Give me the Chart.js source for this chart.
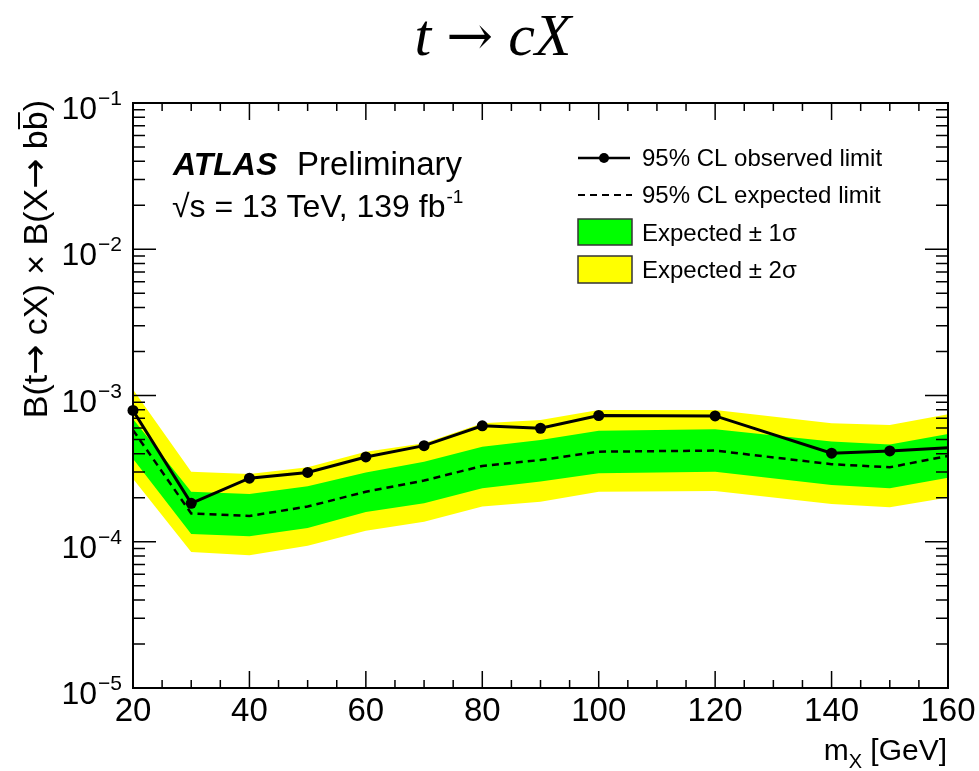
<!DOCTYPE html>
<html>
<head>
<meta charset="utf-8">
<script src="https://cdn.jsdelivr.net/npm/chart.js@4.4.1/dist/chart.umd.min.js"></script>
<style>
  html, body { margin: 0; padding: 0; background: #fff; }
  #wrap { width: 979px; height: 771px; }
</style>
</head>
<body>
<div id="wrap"><canvas id="limitChart" width="979" height="771"></canvas></div>
<script>
// masses and limits
const massPoints = [20, 30, 40, 50, 60, 70, 80, 90, 100, 120, 140, 150, 160];
const observed = [7.9e-4, 1.83e-4, 2.72e-4, 2.98e-4, 3.8e-4, 4.54e-4, 6.2e-4, 5.97e-4, 7.3e-4, 7.25e-4, 4.03e-4, 4.18e-4, 4.4e-4];
const expected = [5.8e-4, 1.56e-4, 1.5e-4, 1.74e-4, 2.2e-4, 2.62e-4, 3.3e-4, 3.62e-4, 4.13e-4, 4.2e-4, 3.39e-4, 3.23e-4, 3.86e-4];
const band1Up = [6.9e-4, 2.2e-4, 2.12e-4, 2.4e-4, 2.97e-4, 3.53e-4, 4.47e-4, 4.97e-4, 5.74e-4, 5.87e-4, 4.84e-4, 4.63e-4, 5.46e-4];
const band1Down = [3.7e-4, 1.13e-4, 1.09e-4, 1.24e-4, 1.6e-4, 1.83e-4, 2.32e-4, 2.58e-4, 2.94e-4, 3.01e-4, 2.44e-4, 2.32e-4, 2.74e-4];
const band2Up = [1.1e-3, 3.01e-4, 2.9e-4, 3.23e-4, 4.13e-4, 4.71e-4, 6.46e-4, 6.8e-4, 7.96e-4, 7.96e-4, 6.45e-4, 6.28e-4, 7.43e-4];
const band2Down = [2.7e-4, 8.5e-5, 8.1e-5, 9.4e-5, 1.19e-4, 1.37e-4, 1.74e-4, 1.88e-4, 2.2e-4, 2.22e-4, 1.81e-4, 1.72e-4, 2.01e-4];

// axis setup
const xMin = 20, xMax = 160, xMajorStep = 20, xMinorStep = 5;
const yExps = [-5, -4, -3, -2, -1];

const sans = '"Liberation Sans", Arial, sans-serif';
const serif = '"Liberation Serif", "Times New Roman", serif';
const arrowSans = '"DejaVu Sans", sans-serif';
const arrowSerif = '"DejaVu Serif", serif';

function toPoints(vals) {
    return massPoints.map((m, i) => ({ x: m, y: vals[i] }));
}

// draws a run of [font, text] pieces starting at x, returns end x
function drawRun(ctx, parts, x, y) {
    for (const p of parts) {
        ctx.font = p[0];
        ctx.fillText(p[1], x, y);
        x += ctx.measureText(p[1]).width;
    }
    return x;
}

function runWidth(ctx, parts) {
    let w = 0;
    for (const p of parts) { ctx.font = p[0]; w += ctx.measureText(p[1]).width; }
    return w;
}

// frame, inner ticks, labels, legend (ROOT look)
const atlasDecor = {
    id: 'atlasDecor',
    afterDraw(chart) {
        const ctx = chart.ctx;
        const area = chart.chartArea;
        const xs = chart.scales.x;
        const ys = chart.scales.y;
        ctx.save();

        // ticks
        ctx.strokeStyle = '#000';
        ctx.lineWidth = 1.5;
        ctx.beginPath();
        for (let v = xMin; v <= xMax; v += xMinorStep) {
            const px = xs.getPixelForValue(v);
            const len = v % xMajorStep === 0 ? 17 : 8;
            ctx.moveTo(px, area.bottom); ctx.lineTo(px, area.bottom - len);
            ctx.moveTo(px, area.top); ctx.lineTo(px, area.top + len);
        }
        for (const e of yExps) {
            for (let k = 1; k < 10; k++) {
                if (e === yExps[yExps.length - 1] && k > 1) break;
                const py = ys.getPixelForValue(k * Math.pow(10, e));
                const len = k === 1 ? 23 : 12;
                ctx.moveTo(area.left, py); ctx.lineTo(area.left + len, py);
                ctx.moveTo(area.right, py); ctx.lineTo(area.right - len, py);
            }
        }
        ctx.stroke();

        // frame
        ctx.lineWidth = 2;
        ctx.strokeRect(area.left, area.top, area.right - area.left, area.bottom - area.top);

        ctx.fillStyle = '#000';
        ctx.textBaseline = 'alphabetic';

        // y tick labels 10^n
        for (const e of yExps) {
            const py = ys.getPixelForValue(Math.pow(10, e));
            ctx.font = '32px ' + sans;
            ctx.textAlign = 'right';
            ctx.fillText('10', 97, py + 16);
            ctx.font = '21px ' + sans;
            ctx.textAlign = 'left';
            ctx.fillText('\u2212' + Math.abs(e), 98, py + 2);
        }

        // x axis title
        ctx.textAlign = 'left';
        ctx.font = '30px ' + sans;
        const wm = ctx.measureText('m').width;
        const wg = ctx.measureText(' [GeV]').width;
        ctx.font = '20px ' + sans;
        const wx = ctx.measureText('X').width;
        let tx = 947 - (wm + wx + wg);
        ctx.font = '30px ' + sans;
        ctx.fillText('m', tx, 760);
        ctx.font = '20px ' + sans;
        ctx.fillText('X', tx + wm, 768);
        ctx.font = '30px ' + sans;
        ctx.fillText(' [GeV]', tx + wm + wx, 760);

        // y axis title
        ctx.save();
        ctx.translate(47, 100);
        ctx.rotate(-Math.PI / 2);
        ctx.textAlign = 'left';
        const fy = '34px ' + sans;
        const ay = '36px ' + arrowSans;
        const yParts = [
            [fy, 'B(t'], [ay, '\u2192'], [fy, ' cX) \u00d7 B(X'],
            [ay, '\u2192'], [fy, ' bb)']
        ];
        const yw = runWidth(ctx, yParts);
        drawRun(ctx, yParts, -yw, 0);
        ctx.font = fy;
        const wp = ctx.measureText(')').width;
        const wb = ctx.measureText('b').width;
        ctx.lineWidth = 2;
        ctx.beginPath();
        ctx.moveTo(-wp - wb + 1, -28);
        ctx.lineTo(-wp - 1, -28);
        ctx.stroke();
        ctx.restore();

        // ATLAS label
        ctx.textAlign = 'left';
        ctx.font = 'italic bold 32px ' + sans;
        ctx.fillText('ATLAS', 173, 175);
        ctx.font = '33px ' + sans;
        ctx.fillText('Preliminary', 297, 175);
        ctx.font = '32px ' + sans;
        const line2 = '\u221As = 13 TeV, 139 fb';
        ctx.fillText(line2, 172, 217);
        const w2 = ctx.measureText(line2).width;
        ctx.font = '19px ' + sans;
        ctx.fillText('-1', 172 + w2 + 1, 203);

        // legend
        ctx.font = '24px ' + sans;
        ctx.lineWidth = 2.5;
        ctx.beginPath();
        ctx.moveTo(578, 158); ctx.lineTo(630, 158);
        ctx.stroke();
        ctx.beginPath();
        ctx.arc(604, 158, 5, 0, Math.PI * 2);
        ctx.fill();
        ctx.fillText('95% CL observed limit', 642, 166);

        ctx.setLineDash([7, 5]);
        ctx.lineWidth = 2;
        ctx.beginPath();
        ctx.moveTo(578, 195); ctx.lineTo(632, 195);
        ctx.stroke();
        ctx.setLineDash([]);
        ctx.fillText('95% CL expected limit', 642, 203);

        ctx.lineWidth = 1.5;
        ctx.fillStyle = '#00ff00';
        ctx.fillRect(578, 219, 54, 26);
        ctx.strokeStyle = '#333';
        ctx.strokeRect(578, 219, 54, 26);
        ctx.fillStyle = '#ffff00';
        ctx.fillRect(578, 256, 54, 27);
        ctx.strokeRect(578, 256, 54, 27);
        ctx.fillStyle = '#000';
        ctx.fillText('Expected \u00b1 1\u03c3', 642, 241);
        ctx.fillText('Expected \u00b1 2\u03c3', 642, 278);

        // title  t -> cX
        const parts = [
            ['italic 60px ' + serif, 't '],
            ['56px ' + arrowSerif, '\u2192'],
            ['italic 60px ' + serif, ' cX']
        ];
        const total = runWidth(ctx, parts);
        drawRun(ctx, parts, 493 - total / 2, 55);

        ctx.restore();
    }
};

new Chart(document.getElementById('limitChart'), {
    type: 'line',
    data: {
        datasets: [
            {
                label: '95% CL observed limit',
                data: toPoints(observed),
                borderColor: '#000',
                borderWidth: 3,
                pointRadius: observed.map((v, i) => i === observed.length - 1 ? 0 : 5.5),
                pointBackgroundColor: '#000',
                pointBorderWidth: 0,
                fill: false,
                clip: false,
                order: 0
            },
            {
                label: '95% CL expected limit',
                data: toPoints(expected),
                borderColor: '#000',
                borderWidth: 2.5,
                borderDash: [7, 5],
                pointRadius: 0,
                fill: false,
                order: 1
            },
            {
                label: 'Expected +1 sigma',
                data: toPoints(band1Up),
                borderColor: 'transparent',
                borderWidth: 0,
                backgroundColor: '#00ff00',
                pointRadius: 0,
                fill: '+1',
                order: 2
            },
            {
                label: 'Expected -1 sigma',
                data: toPoints(band1Down),
                borderColor: 'transparent',
                borderWidth: 0,
                pointRadius: 0,
                fill: false,
                order: 3
            },
            {
                label: 'Expected +2 sigma',
                data: toPoints(band2Up),
                borderColor: 'transparent',
                borderWidth: 0,
                backgroundColor: '#ffff00',
                pointRadius: 0,
                fill: '+1',
                order: 4
            },
            {
                label: 'Expected -2 sigma',
                data: toPoints(band2Down),
                borderColor: 'transparent',
                borderWidth: 0,
                pointRadius: 0,
                fill: false,
                order: 5
            }
        ]
    },
    options: {
        responsive: false,
        animation: false,
        layout: { padding: { top: 103, right: 31, left: 0, bottom: 0 } },
        elements: { line: { tension: 0 } },
        plugins: {
            legend: { display: false },
            tooltip: { enabled: false },
            title: { display: false }
        },
        scales: {
            x: {
                type: 'linear',
                min: xMin,
                max: xMax,
                grid: { display: false },
                border: { display: false },
                ticks: {
                    stepSize: xMajorStep,
                    color: '#000',
                    font: { family: sans, size: 33 },
                    padding: -4,
                    maxRotation: 0
                },
                afterFit(scale) { scale.height = 83; }
            },
            y: {
                type: 'logarithmic',
                min: 1e-5,
                max: 1e-1,
                grid: { display: false },
                border: { display: false },
                ticks: { display: false },
                afterFit(scale) { scale.width = 133; }
            }
        }
    },
    plugins: [atlasDecor]
});
</script>
</body>
</html>
